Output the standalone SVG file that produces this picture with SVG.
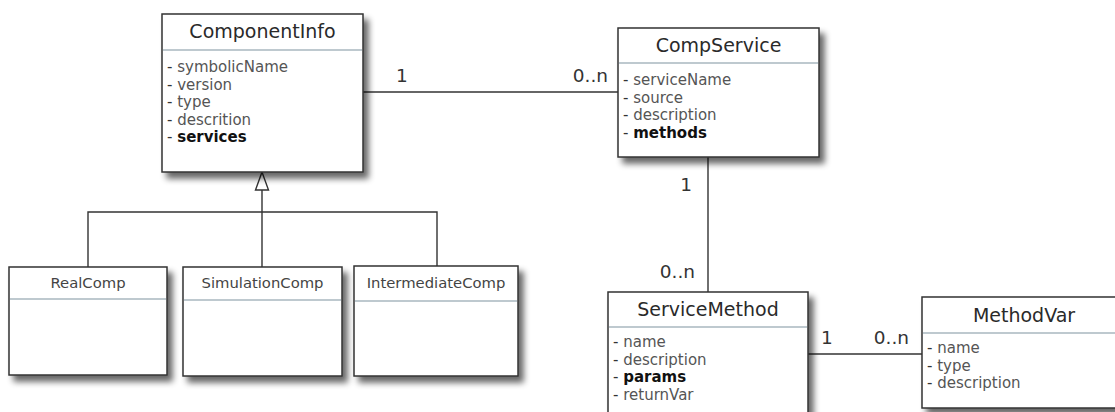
<svg xmlns="http://www.w3.org/2000/svg" width="1115" height="412" viewBox="0 0 1115 412">
  <defs>
    <filter id="shadow" x="-10%" y="-10%" width="130%" height="130%">
      <feGaussianBlur in="SourceAlpha" stdDeviation="3"/>
      <feOffset dx="5" dy="6" result="b"/>
      <feComponentTransfer><feFuncA type="linear" slope="0.6"/></feComponentTransfer>
      <feMerge><feMergeNode/><feMergeNode in="SourceGraphic"/></feMerge>
    </filter>
    <style>
      .box { fill: #ffffff; stroke: #333333; stroke-width: 1.5; }
      .sep { stroke: #a9b7bf; stroke-width: 1.3; }
      .title { font-family: "DejaVu Sans", Verdana, sans-serif; font-size: 19px; fill: #2a2a2a; text-anchor: middle; }
      .subtitle { font-family: "DejaVu Sans", Verdana, sans-serif; font-size: 14.8px; fill: #444444; text-anchor: middle; }
      .attr { font-family: "DejaVu Sans", Verdana, sans-serif; font-size: 15px; fill: #555555; }
      .key { font-weight: bold; fill: #111111; }
      .dash { fill: #333333; }
      .line { stroke: #333333; stroke-width: 1.4; fill: none; }
      .mult { font-family: "DejaVu Sans", Verdana, sans-serif; font-size: 18.5px; fill: #333333; }
    </style>
  </defs>
  <rect width="1115" height="412" fill="#ffffff"/>

  <g id="connectors">
    <!-- ComponentInfo to CompService -->
    <line class="line" x1="363" y1="92" x2="618" y2="92"/>
    <text class="mult" x="396" y="82">1</text>
    <text class="mult" x="608" y="82" text-anchor="end">0..n</text>
    <!-- CompService to ServiceMethod -->
    <line class="line" x1="708" y1="157" x2="708" y2="292"/>
    <text class="mult" x="692" y="191" text-anchor="end">1</text>
    <text class="mult" x="695" y="278" text-anchor="end">0..n</text>
    <!-- ServiceMethod to MethodVar -->
    <line class="line" x1="808" y1="354" x2="922" y2="354"/>
    <text class="mult" x="821" y="344">1</text>
    <text class="mult" x="909" y="344" text-anchor="end">0..n</text>
    <!-- generalization tree -->
    <polyline class="line" points="88,267 88,212 437,212 437,266"/>
    <line class="line" x1="262" y1="190" x2="262" y2="267"/>
    <polygon points="262,172 255.5,190 268.5,190" fill="#ffffff" stroke="#333333" stroke-width="1.4"/>
  </g>

  <g id="ComponentInfo">
    <rect class="box" x="162" y="14" width="201" height="158" filter="url(#shadow)"/>
    <line class="sep" x1="163" y1="50" x2="362" y2="50"/>
    <text class="title" x="262.5" y="38">ComponentInfo</text>
    <text class="attr" x="167" y="72"><tspan class="dash">-</tspan> symbolicName</text>
    <text class="attr" x="167" y="89.5"><tspan class="dash">-</tspan> version</text>
    <text class="attr" x="167" y="107"><tspan class="dash">-</tspan> type</text>
    <text class="attr" x="167" y="124.5"><tspan class="dash">-</tspan> descrition</text>
    <text class="attr" x="167" y="142"><tspan class="dash">-</tspan> <tspan class="key">services</tspan></text>
  </g>

  <g id="CompService">
    <rect class="box" x="618" y="28" width="201" height="129" filter="url(#shadow)"/>
    <line class="sep" x1="619" y1="63" x2="818" y2="63"/>
    <text class="title" x="718.5" y="52">CompService</text>
    <text class="attr" x="623" y="85"><tspan class="dash">-</tspan> serviceName</text>
    <text class="attr" x="623" y="102.5"><tspan class="dash">-</tspan> source</text>
    <text class="attr" x="623" y="120"><tspan class="dash">-</tspan> description</text>
    <text class="attr" x="623" y="137.5"><tspan class="dash">-</tspan> <tspan class="key">methods</tspan></text>
  </g>

  <g id="ServiceMethod">
    <rect class="box" x="608" y="292" width="200" height="135" filter="url(#shadow)"/>
    <line class="sep" x1="609" y1="327" x2="807" y2="327"/>
    <text class="title" x="708" y="316">ServiceMethod</text>
    <text class="attr" x="613" y="347"><tspan class="dash">-</tspan> name</text>
    <text class="attr" x="613" y="364.5"><tspan class="dash">-</tspan> description</text>
    <text class="attr" x="613" y="382"><tspan class="dash">-</tspan> <tspan class="key">params</tspan></text>
    <text class="attr" x="613" y="399.5"><tspan class="dash">-</tspan> returnVar</text>
  </g>

  <g id="MethodVar">
    <rect class="box" x="922" y="297" width="204" height="111" filter="url(#shadow)"/>
    <line class="sep" x1="923" y1="333" x2="1126" y2="333"/>
    <text class="title" x="1024" y="322">MethodVar</text>
    <text class="attr" x="927" y="353"><tspan class="dash">-</tspan> name</text>
    <text class="attr" x="927" y="370.5"><tspan class="dash">-</tspan> type</text>
    <text class="attr" x="927" y="388"><tspan class="dash">-</tspan> description</text>
  </g>

  <g id="RealComp">
    <rect class="box" x="9" y="267" width="158" height="108" filter="url(#shadow)"/>
    <line class="sep" x1="10" y1="299" x2="166" y2="299"/>
    <text class="subtitle" x="88" y="288">RealComp</text>
  </g>

  <g id="SimulationComp">
    <rect class="box" x="183" y="267" width="159" height="109" filter="url(#shadow)"/>
    <line class="sep" x1="184" y1="300" x2="341" y2="300"/>
    <text class="subtitle" x="262.5" y="288">SimulationComp</text>
  </g>

  <g id="IntermediateComp">
    <rect class="box" x="354" y="266" width="164" height="110" filter="url(#shadow)"/>
    <line class="sep" x1="355" y1="301" x2="517" y2="301"/>
    <text class="subtitle" x="436" y="288">IntermediateComp</text>
  </g>
</svg>
